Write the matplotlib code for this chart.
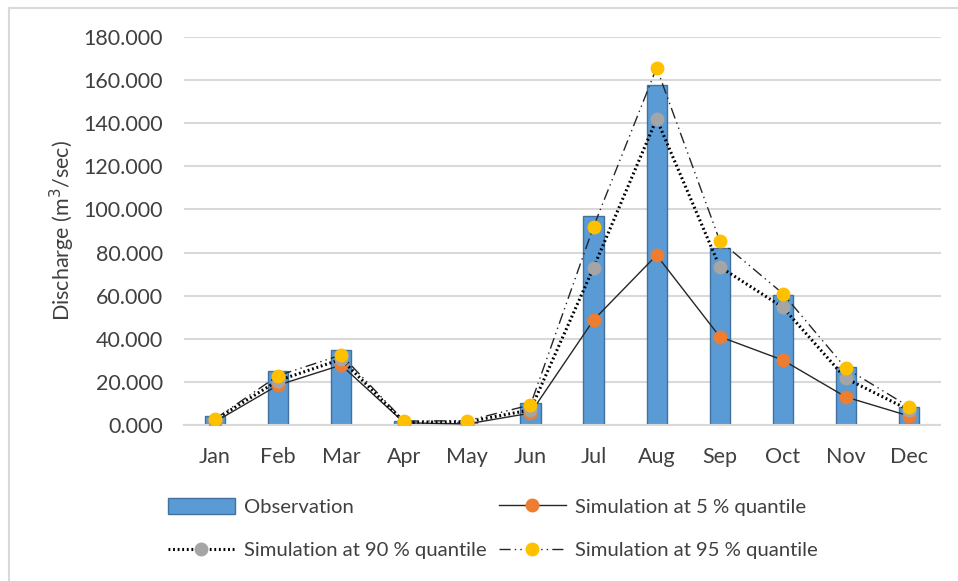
import numpy as np
import matplotlib
matplotlib.use('agg')
from matplotlib import pyplot as plt
from matplotlib.lines import Line2D
from matplotlib.patches import Patch


months = ['Jan', 'Feb', 'Mar', 'Apr', 'May', 'Jun',
          'Jul', 'Aug', 'Sep', 'Oct', 'Nov', 'Dec']
observation = [4.3, 25.2, 34.8, 2.0, 1.5, 10.3, 97.1, 157.8, 82.0, 60.2, 27.0, 8.3]
sim_q05 = [1.5, 18.5, 27.8, 1.0, 0.5, 5.5, 48.7, 78.8, 41.0, 30.1, 13.0, 4.2]
sim_q90 = [2.5, 20.6, 30.5, 1.3, 1.5, 7.0, 73.0, 142.0, 73.4, 54.6, 21.6, 7.0]
sim_q95 = [2.8, 22.9, 32.5, 1.8, 2.0, 9.3, 92.0, 165.7, 85.5, 61.0, 26.3, 8.5]
y_ticks = [0, 20, 40, 60, 80, 100, 120, 140, 160, 180]

plt.rc('font', family=['Lato', 'DejaVu Sans'])

fig = plt.figure(figsize=[9.58, 5.81], dpi=100)
ax = fig.add_axes([183.5 / 958, 1 - 425 / 581, (940.5 - 183.5) / 958, 388 / 581])

x = np.arange(len(months))
ax.bar(x, observation, width=0.32, color='#5B9BD5', edgecolor='#41719C',
       linewidth=1.0, zorder=2)

ms = 9
dots = (0, (0.6, 0.9))
dashdotdot = (0, (8, 3, 1, 3, 1, 3))
ax.plot(x, sim_q05, color='#262626', linewidth=1.0, linestyle='-',
        marker='o', markersize=ms, markerfacecolor='#ED7D31',
        markeredgecolor='#ED7D31', zorder=3)
ax.plot(x, sim_q90, color='black', linewidth=2.2, linestyle=dots,
        marker='o', markersize=ms, markerfacecolor='#A5A5A5',
        markeredgecolor='#A5A5A5', zorder=4)
ax.plot(x, sim_q95, color='#262626', linewidth=1.0, linestyle=dashdotdot,
        marker='o', markersize=ms, markerfacecolor='#FFC000',
        markeredgecolor='#FFC000', zorder=5)

ax.set_xlim(-0.5, len(months) - 0.5)
ax.set_ylim(0, 180)
ax.set_xticks(x)
ax.set_xticklabels(months)
ax.set_yticks(y_ticks)
ax.set_yticklabels(['%.3f' % v for v in y_ticks])
ax.tick_params(axis='both', length=0, labelsize=15.5, colors='#404040')
ax.tick_params(axis='x', pad=16)
ax.tick_params(axis='y', pad=15)
ax.grid(axis='y', color='#D9D9D9', linewidth=1.5, zorder=0)
ax.set_axisbelow(True)
for side in ['top', 'right', 'left']:
    ax.spines[side].set_visible(False)
ax.spines['bottom'].set_color('#D9D9D9')
ax.spines['bottom'].set_linewidth(1.5)

ax.set_ylabel(r'Discharge (m$^3$/sec)', fontsize=15.5, color='#404040')
ax.yaxis.set_label_coords((77 - 183.5) / 757, 0.5)

handles = [
    Patch(facecolor='#5B9BD5', edgecolor='#41719C', linewidth=1.0),
    Line2D([], [], color='#262626', linewidth=1.0, marker='o', markersize=ms,
           markerfacecolor='#ED7D31', markeredgecolor='#ED7D31'),
    Line2D([], [], color='black', linewidth=2.2, linestyle=dots,
           marker='o', markersize=ms, markerfacecolor='#A5A5A5',
           markeredgecolor='#A5A5A5'),
    Line2D([], [], color='#262626', linewidth=1.0, linestyle=dashdotdot,
           marker='o', markersize=ms, markerfacecolor='#FFC000',
           markeredgecolor='#FFC000'),
]
labels = ['Observation', 'Simulation at 5 % quantile',
          'Simulation at 90 % quantile', 'Simulation at 95 % quantile']
# rows read: Observation | 5 %, then 90 % | 95 %
order = [0, 2, 1, 3]
leg = fig.legend([handles[i] for i in order], [labels[i] for i in order],
                 ncol=2, loc='upper left', bbox_to_anchor=(168 / 958, 1 - 498 / 581),
                 frameon=False, fontsize=14.6, handlelength=3.3, handleheight=0.8,
                 columnspacing=0.6, labelspacing=1.25, handletextpad=0.45,
                 borderaxespad=0, borderpad=0)
for t in leg.get_texts():
    t.set_color('#404040')

# thin frame lines at left and top as in the source screenshot
fig.add_artist(Line2D([9 / 958, 9 / 958], [0, 1 - 8 / 581], color='#D9D9D9',
                      linewidth=1.5, transform=fig.transFigure))
fig.add_artist(Line2D([9 / 958, 1], [1 - 8 / 581, 1 - 8 / 581], color='#D9D9D9',
                      linewidth=1.5, transform=fig.transFigure))

plt.savefig('out.png', dpi=100, facecolor='white')
